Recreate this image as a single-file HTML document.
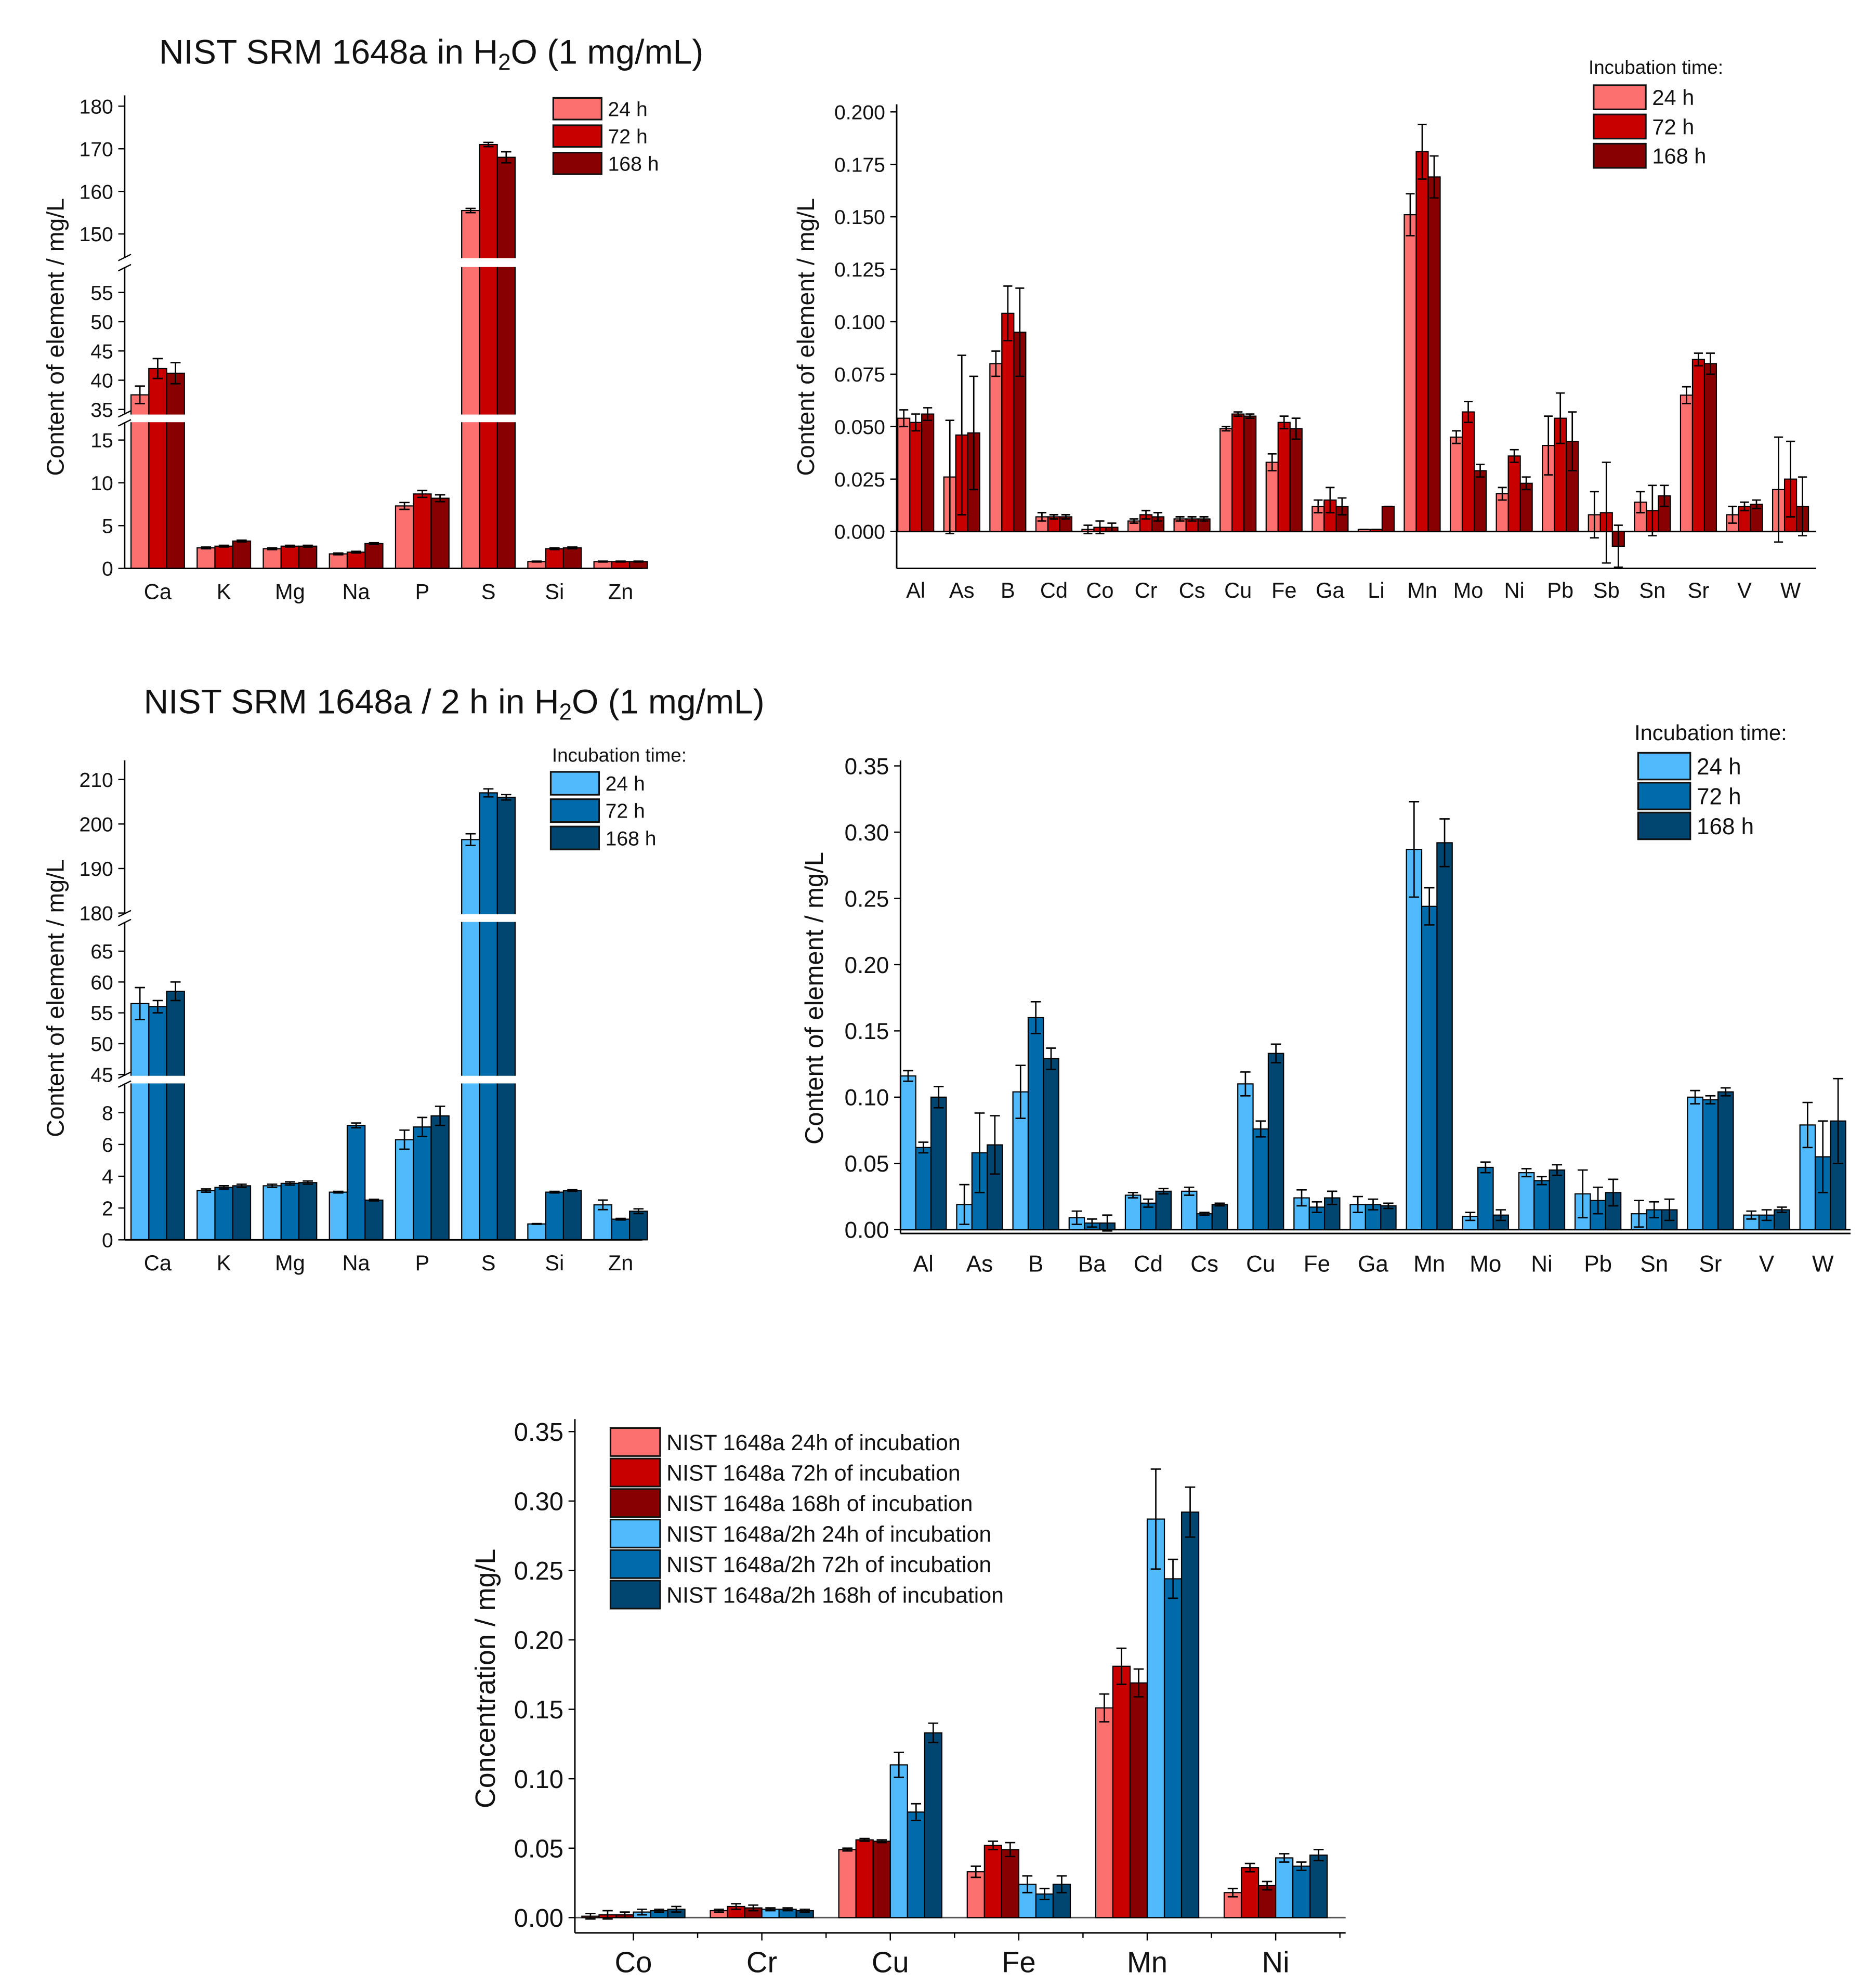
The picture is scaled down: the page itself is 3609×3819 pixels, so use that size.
<!DOCTYPE html>
<html><head><meta charset="utf-8">
<style>html,body{margin:0;padding:0;background:#fff}svg{display:block}text{font-family:"Liberation Sans",Arial,sans-serif;fill:#111}</style>
</head><body>
<svg id="fig" xmlns="http://www.w3.org/2000/svg" width="3609" height="3819" viewBox="0 0 1475 1561" preserveAspectRatio="none">
<text x="125" y="50" font-size="27">NIST SRM 1648a in H<tspan font-size="18" dy="5">2</tspan><tspan dy="-5">O (1 mg/mL)</tspan></text>
<text x="113" y="561" font-size="27">NIST SRM 1648a / 2 h in H<tspan font-size="18" dy="5">2</tspan><tspan dy="-5">O (1 mg/mL)</tspan></text>
</svg>
<script>
// ---- chart data ----
const c1Cats=["Ca","K","Mg","Na","P","S","Si","Zn"];
const c1V24=[37.5,2.4,2.3,1.7,7.3,155.5,0.8,0.8];
const c1V72=[42,2.6,2.6,1.9,8.7,171,2.3,0.8];
const c1V168=[41.2,3.2,2.6,2.9,8.2,168,2.4,0.8];
const c1E24=[1.5,0.1,0.1,0.1,0.4,0.5,0.05,0.05];
const c1E72=[1.7,0.1,0.1,0.1,0.4,0.5,0.1,0.05];
const c1E168=[1.8,0.1,0.1,0.1,0.4,1.3,0.1,0.05];
const c1Ticks=[0,5,10,15,35,40,45,50,55,150,160,170,180];

const c2Cats=["Al","As","B","Cd","Co","Cr","Cs","Cu","Fe","Ga","Li","Mn","Mo","Ni","Pb","Sb","Sn","Sr","V","W"];
const c2V24=[.054,.026,.080,.007,.001,.005,.006,.049,.033,.012,.001,.151,.045,.018,.041,.008,.014,.065,.008,.020];
const c2V72=[.052,.046,.104,.007,.002,.008,.006,.056,.052,.015,.001,.181,.057,.036,.054,.009,.010,.082,.012,.025];
const c2V168=[.056,.047,.095,.007,.002,.007,.006,.055,.049,.012,.012,.169,.029,.023,.043,-.007,.017,.080,.013,.012];
const c2E24=[.004,.027,.006,.002,.002,.001,.001,.001,.004,.003,0,.010,.003,.003,.014,.011,.005,.004,.004,.025];
const c2E72=[.004,.038,.013,.001,.003,.002,.001,.001,.003,.006,0,.013,.005,.003,.012,.024,.012,.003,.002,.018];
const c2E168=[.003,.027,.021,.001,.002,.002,.001,.001,.005,.004,0,.010,.003,.003,.014,.010,.005,.005,.002,.014];
const c2Ticks=[0,.025,.05,.075,.1,.125,.15,.175,.2];

const c3Cats=["Ca","K","Mg","Na","P","S","Si","Zn"];
const c3V24=[56.5,3.1,3.4,3.0,6.3,196.5,1.0,2.2];
const c3V72=[56,3.3,3.55,7.2,7.1,207,3.0,1.3];
const c3V168=[58.5,3.4,3.6,2.5,7.8,206,3.1,1.8];
const c3E24=[2.6,0.1,0.1,0.05,0.6,1.3,0.02,0.3];
const c3E72=[1.0,0.1,0.1,0.15,0.6,0.9,0.05,0.05];
const c3E168=[1.5,0.1,0.1,0.05,0.6,0.6,0.05,0.15];
const c3Ticks=[0,2,4,6,8,45,50,55,60,65,180,190,200,210];

const c4Cats=["Al","As","B","Ba","Cd","Cs","Cu","Fe","Ga","Mn","Mo","Ni","Pb","Sn","Sr","V","W"];
const c4V24=[.116,.019,.104,.009,.026,.029,.110,.024,.019,.287,.010,.043,.027,.012,.100,.011,.079];
const c4V72=[.062,.058,.160,.005,.020,.012,.076,.017,.019,.244,.047,.037,.022,.015,.098,.011,.055];
const c4V168=[.100,.064,.129,.005,.029,.019,.133,.024,.018,.292,.011,.045,.028,.015,.104,.015,.082];
const c4E24=[.004,.015,.020,.005,.002,.003,.009,.006,.006,.036,.003,.003,.018,.010,.005,.003,.017];
const c4E72=[.004,.030,.012,.003,.003,.001,.006,.004,.004,.014,.004,.003,.010,.006,.003,.004,.027];
const c4E168=[.008,.022,.008,.006,.002,.001,.007,.005,.002,.018,.004,.004,.010,.008,.003,.002,.032];
const c4Ticks=[0,.05,.1,.15,.2,.25,.3,.35];

const c5Cats=["Co","Cr","Cu","Fe","Mn","Ni"];
const c5A24=[.001,.005,.049,.033,.151,.018];
const c5A72=[.002,.008,.056,.052,.181,.036];
const c5A168=[.002,.007,.055,.049,.169,.023];
const c5B24=[.004,.006,.110,.024,.287,.043];
const c5B72=[.005,.006,.076,.017,.244,.037];
const c5B168=[.006,.005,.133,.024,.292,.045];
const c5EA24=[.002,.001,.001,.004,.010,.003];
const c5EA72=[.003,.002,.001,.003,.013,.003];
const c5EA168=[.002,.002,.001,.005,.010,.003];
const c5EB24=[.002,.001,.009,.006,.036,.003];
const c5EB72=[.001,.001,.006,.004,.014,.003];
const c5EB168=[.002,.001,.007,.006,.018,.004];
const c5Ticks=[0,.05,.1,.15,.2,.25,.3,.35];

const RED=["#FC7070","#C80000","#880000"], BLUE=["#50BAFC","#006BAA","#004670"];
const NS="http://www.w3.org/2000/svg";
const svg=document.getElementById('fig');
function mk(tag,attrs,parent){const e=document.createElementNS(NS,tag);for(const k in attrs)e.setAttribute(k,attrs[k]);(parent||svg).appendChild(e);return e;}
function txt(s,attrs,parent){const e=mk('text',attrs,parent);e.textContent=s;return e;}

function chart(cfg){
  const g=mk('g',{});
  
  
  const y=cfg.y, ax=cfg.axisX, base=cfg.axisY;
  if(cfg.zeroLine){const z=mk('line',{x1:ax,x2:cfg.xEnd,y1:y(0),y2:y(0),stroke:cfg.zeroColor||'#000','stroke-width':1.2},g);
    
    }
  const n=cfg.series.length;
  cfg.cats.forEach((c,i)=>{
    const cx=cfg.x0+i*cfg.step;
    for(let s=0;s<n;s++){
      const v=cfg.series[s][i], e=cfg.errs[s][i];
      const bx=cx-n*cfg.bw/2+s*cfg.bw;
      const y0=y(0), y1=y(v);
      const r=mk('rect',{x:bx,y:Math.min(y0,y1),width:cfg.bw,height:Math.max(0.6,Math.abs(y0-y1)),fill:cfg.colors[s],stroke:'#000','stroke-width':0.9},g);
      
      
      const mx=bx+cfg.bw/2, ya=y(v+e), yb=y(v-e), cw=cfg.cap;
      const eb=mk('path',{d:`M${mx},${ya}V${yb}M${mx-cw},${ya}H${mx+cw}M${mx-cw},${yb}H${mx+cw}`,stroke:'#000','stroke-width':1.1,fill:'none'},g);
      
      
    }
    const t=txt(c,{x:cx,y:cfg.catY,'font-size':cfg.catFs,'text-anchor':'middle'},g);
    
    
    if(cfg.xTicks){mk('line',{x1:cx,x2:cx,y1:base,y2:base+6,stroke:'#000','stroke-width':1},g);
      const mxx=cx+cfg.step/2; if(mxx<cfg.xEnd) mk('line',{x1:mxx,x2:mxx,y1:base,y2:base+4,stroke:'#000','stroke-width':1},g);}
  });
  (cfg.breaks||[]).forEach(b=>{
    const w=mk('rect',{x:ax+1,y:b[0],width:cfg.xEnd-ax,height:b[1]-b[0],fill:'#fff'},g);
    
    
    mk('path',{d:`M${ax-5},${b[0]+2}L${ax+5},${b[0]-3}M${ax-5},${b[1]+3}L${ax+5},${b[1]-2}`,stroke:'#000','stroke-width':1},g);
  });
  cfg.ySegs.forEach(sg=>{const l=mk('line',{x1:ax,x2:ax,y1:sg[0],y2:sg[1],stroke:'#000','stroke-width':1.2},g);
    
    });
  const xl=mk('line',{x1:ax,x2:cfg.xEnd,y1:base,y2:base,stroke:'#000','stroke-width':1.2},g);
  
  
  cfg.ticks.forEach(t=>{
    const ty=y(t);
    mk('line',{x1:ax-5,x2:ax,y1:ty,y2:ty,stroke:'#000','stroke-width':1},g);
    const lb=txt(cfg.fmt(t),{x:ax-9,y:ty+cfg.tickFs*0.36,'font-size':cfg.tickFs,'text-anchor':'end'},g);
    
    
  });
  const yt=txt(cfg.yTitle,{x:0,y:0,'font-size':cfg.yTitleFs,'text-anchor':'middle',transform:`translate(${cfg.yTitlePos[0]},${cfg.yTitlePos[1]}) rotate(-90)`},g);
  
  
  const L=cfg.legend;
  if(L.title){const lt=txt(L.title,{x:L.tx,y:L.ty,'font-size':L.titleFs},g);
    
    }
  L.items.forEach((it,k)=>{
    const ly=L.y+k*L.dy;
    const lg=mk('g',{},g);
    
    
    mk('rect',{x:L.x,y:ly,width:L.w,height:L.h,fill:it[1],stroke:'#111','stroke-width':1.3},lg);
    txt(it[0],{x:L.x+L.w+5,y:ly+L.h*0.5+L.fs*0.36,'font-size':L.fs},lg);
  });
}
const f0=v=>String(v), f3=v=>v.toFixed(3), f2=v=>v.toFixed(2);
const yT='Content of element / mg/L';

chart({name:'chart-top-left',cats:c1Cats,series:[c1V24,c1V72,c1V168],errs:[c1E24,c1E72,c1E168],labels:['24h','72h','168h'],colors:RED,
 y:v=>v<=17?447-v*6.73:(v<=80?322-(v-35)*4.6:184-(v-150)*3.35),
 x0:124,step:52,bw:14,cap:4,axisX:98,axisY:447,xEnd:505,catY:471,catFs:17,tickFs:16,fmt:f0,ticks:c1Ticks,
 breaks:[[203,210],[326,332]],ySegs:[[75,203],[210,326],[332,447]],
 yTitle:yT,yTitleFs:19,yTitlePos:[50,265],
 legend:{x:435,y:77,dy:21.5,w:38,h:17,fs:16,items:[['24 h',RED[0]],['72 h',RED[1]],['168 h',RED[2]]]}});

chart({name:'chart-top-right',cats:c2Cats,series:[c2V24,c2V72,c2V168],errs:[c2E24,c2E72,c2E168],labels:['24h','72h','168h'],colors:RED,
 y:v=>418-v*1650, zeroLine:true,
 x0:720,step:36.2,bw:9.4,cap:3.5,axisX:705,axisY:447,xEnd:1428,catY:470,catFs:17,tickFs:16,fmt:f3,ticks:c2Ticks,
 ySegs:[[82,447]],yTitle:yT,yTitleFs:19,yTitlePos:[640,265],
 legend:{title:'Incubation time:',tx:1249,ty:58,titleFs:15,x:1253,y:67,dy:23,w:41,h:19,fs:17,items:[['24 h',RED[0]],['72 h',RED[1]],['168 h',RED[2]]]}});

chart({name:'chart-middle-left',cats:c3Cats,series:[c3V24,c3V72,c3V168],errs:[c3E24,c3E72,c3E168],labels:['24h','72h','168h'],colors:BLUE,
 y:v=>v<=10?975-v*12.5:(v<=100?845-(v-45)*4.85:718-(v-180)*3.5),
 x0:124,step:52,bw:14,cap:4,axisX:98,axisY:975,xEnd:505,catY:999,catFs:17,tickFs:16,fmt:f0,ticks:c3Ticks,
 breaks:[[719,725],[846,852]],ySegs:[[598,719],[725,846],[852,975]],
 yTitle:yT,yTitleFs:19,yTitlePos:[50,785],
 legend:{title:'Incubation time:',tx:434,ty:599,titleFs:15,x:433,y:607,dy:21.5,w:38,h:18,fs:16,items:[['24 h',BLUE[0]],['72 h',BLUE[1]],['168 h',BLUE[2]]]}});

chart({name:'chart-middle-right',cats:c4Cats,series:[c4V24,c4V72,c4V168],errs:[c4E24,c4E72,c4E168],labels:['24h','72h','168h'],colors:BLUE,
 y:v=>967-v*1042, zeroLine:true,
 x0:726,step:44.2,bw:12,cap:4,axisX:708,axisY:970,xEnd:1455,catY:1000,catFs:18,tickFs:18,fmt:f2,ticks:c4Ticks,
 ySegs:[[598,970]],yTitle:yT,yTitleFs:20,yTitlePos:[647,785],
 legend:{title:'Incubation time:',tx:1285,ty:582,titleFs:17,x:1288,y:592,dy:23.5,w:41,h:21,fs:18,items:[['24 h',BLUE[0]],['72 h',BLUE[1]],['168 h',BLUE[2]]]}});

chart({name:'chart-bottom-comparison',cats:c5Cats,series:[c5A24,c5A72,c5A168,c5B24,c5B72,c5B168],errs:[c5EA24,c5EA72,c5EA168,c5EB24,c5EB72,c5EB168],
 labels:['a24h','a72h','a168h','b24h','b72h','b168h'],colors:RED.concat(BLUE),
 y:v=>1508-v*1092, zeroLine:true, zeroColor:'#555',xTicks:true,
 x0:498,step:101,bw:13.5,cap:4,axisX:452,axisY:1520,xEnd:1058,catY:1551,catFs:23,tickFs:20,fmt:f2,ticks:c5Ticks,
 ySegs:[[1116,1520]],yTitle:'Concentration / mg/L',yTitleFs:22,yTitlePos:[389,1320],
 legend:{x:480,y:1123,dy:24,w:39,h:22,fs:17.5,items:[['NIST 1648a 24h of incubation',RED[0]],['NIST 1648a 72h of incubation',RED[1]],['NIST 1648a 168h of incubation',RED[2]],['NIST 1648a/2h 24h of incubation',BLUE[0]],['NIST 1648a/2h 72h of incubation',BLUE[1]],['NIST 1648a/2h 168h of incubation',BLUE[2]]]}});
</script>
</body></html>
